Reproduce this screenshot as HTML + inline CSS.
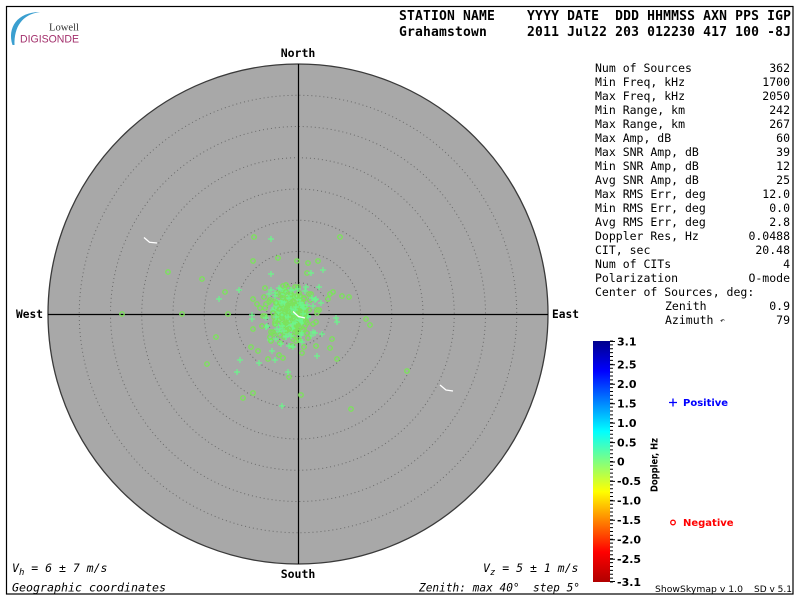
<!DOCTYPE html>
<html><head><meta charset="utf-8"><style>
html,body{margin:0;padding:0;background:#fff;}
svg{display:block;}
</style></head><body>
<svg width="800" height="600" viewBox="0 0 800 600" xmlns="http://www.w3.org/2000/svg" xmlns:xlink="http://www.w3.org/1999/xlink">
<defs>
<linearGradient id="jet" x1="0" y1="0" x2="0" y2="1">
<stop offset="0" stop-color="#00008c"/>
<stop offset="0.125" stop-color="#0000ff"/>
<stop offset="0.375" stop-color="#00ffff"/>
<stop offset="0.5" stop-color="#80ff80"/>
<stop offset="0.625" stop-color="#ffff00"/>
<stop offset="0.875" stop-color="#ff0000"/>
<stop offset="1" stop-color="#b00000"/>
</linearGradient>
<path id="p" d="M-3 0h6M0 -3v6" stroke="#6cf58c" stroke-width="1.2" fill="none"/>
<circle id="o" r="2.2" stroke="#7ce25c" stroke-width="1.4" fill="none"/>
<g id="g1">
<use href="#o" x="3" y="-5"/><use href="#o" x="8" y="2"/><use href="#o" x="-6" y="4"/><use href="#o" x="11" y="-9"/>
<use href="#o" x="-9" y="-11"/><use href="#o" x="13" y="7"/><use href="#o" x="-4" y="13"/><use href="#o" x="5" y="15"/>
<use href="#o" x="-13" y="2"/><use href="#o" x="2" y="-16"/><use href="#o" x="15" y="-3"/><use href="#o" x="-8" y="-17"/>
<use href="#o" x="0" y="6"/><use href="#o" x="-3" y="-2"/><use href="#o" x="6" y="-12"/>
<use href="#p" x="0" y="-9"/><use href="#p" x="6" y="9"/><use href="#p" x="-10" y="-5"/><use href="#p" x="9" y="-15"/>
<use href="#p" x="-7" y="11"/><use href="#p" x="12" y="12"/><use href="#p" x="-14" y="9"/><use href="#p" x="9" y="-3"/>
<use href="#p" x="-3" y="-14"/><use href="#p" x="16" y="4"/><use href="#p" x="2" y="2"/><use href="#p" x="-5" y="-7"/>
</g>
<g id="g2">
<use href="#o" x="20" y="-18"/><use href="#o" x="-22" y="-10"/><use href="#o" x="25" y="10"/><use href="#o" x="-18" y="20"/>
<use href="#o" x="8" y="28"/><use href="#o" x="-5" y="-27"/><use href="#o" x="28" y="-2"/><use href="#o" x="-26" y="4"/>
<use href="#p" x="-20" y="-22"/><use href="#p" x="22" y="20"/><use href="#p" x="15" y="-25"/><use href="#p" x="-25" y="15"/>
<use href="#p" x="0" y="24"/><use href="#p" x="24" y="-12"/>
</g>
</defs>

<rect x="6.5" y="6.5" width="786.5" height="587.5" fill="none" stroke="#000" stroke-width="1.2"/>

<path d="M12.5 45 C7 28 17 12 40 12 C22 14.5 14 27 14.5 45 Z" fill="#3a9fd0"/>
<text x="49" y="30.5" font-family="Liberation Serif, serif" font-size="10.5" fill="#333" textLength="30" lengthAdjust="spacingAndGlyphs">Lowell</text>
<text x="20" y="42.5" font-family="Liberation Sans, sans-serif" font-size="11" fill="#a3306c" textLength="59" lengthAdjust="spacingAndGlyphs">DIGISONDE</text>

<g font-family="DejaVu Sans Mono, monospace" font-weight="bold" font-size="13" fill="#000">
<text x="399" y="20" textLength="392" lengthAdjust="spacing" xml:space="preserve">STATION NAME    YYYY DATE  DDD HHMMSS AXN PPS IGP</text>
<text x="399" y="36" textLength="392" lengthAdjust="spacing" xml:space="preserve">Grahamstown     2011 Jul22 203 012230 417 100 -8J</text>
</g>

<circle cx="298" cy="314" r="250" fill="#a8a8a8" stroke="#3a3a3a" stroke-width="1.3"/>
<g fill="none" stroke="#6a6a6a" stroke-width="1" stroke-dasharray="1 3">
<circle cx="298" cy="314" r="31.25"/>
<circle cx="298" cy="314" r="62.5"/>
<circle cx="298" cy="314" r="93.75"/>
<circle cx="298" cy="314" r="125"/>
<circle cx="298" cy="314" r="156.25"/>
<circle cx="298" cy="314" r="187.5"/>
<circle cx="298" cy="314" r="218.75"/>
</g>
<line x1="298.5" y1="64" x2="298.5" y2="564" stroke="#000" stroke-width="1.2"/>
<line x1="48" y1="314.5" x2="548" y2="314.5" stroke="#000" stroke-width="1.2"/>

<g font-family="DejaVu Sans Mono, monospace" font-weight="bold" font-size="11.5" fill="#000">
<text x="298" y="57" text-anchor="middle">North</text>
<text x="298" y="578" text-anchor="middle">South</text>
<text x="16" y="318" textLength="27" lengthAdjust="spacingAndGlyphs">West</text>
<text x="552" y="318" textLength="27" lengthAdjust="spacingAndGlyphs">East</text>
</g>

<ellipse cx="291" cy="312" rx="14" ry="20" fill="#8ef08e" opacity="0.6"/>
<use href="#g1" transform="translate(291,312)"/>
<use href="#g1" transform="translate(290,304) scale(-1,1)"/>
<use href="#g1" transform="translate(292,320) scale(1,-1)"/>
<use href="#g1" transform="translate(289,314) scale(-1,-1)"/>
<use href="#g1" transform="translate(293,308) rotate(90)"/>
<use href="#g1" transform="translate(288,318) rotate(90) scale(-1,1)"/>
<use href="#g1" transform="translate(291,300) rotate(180)"/>
<use href="#g1" transform="translate(291,326) rotate(270)"/>
<use href="#g2" transform="translate(291,312)"/>
<use href="#g2" transform="translate(291,314) scale(-1,-1)"/>
<use href="#g2" transform="translate(290,318) rotate(90)"/>

<g>
<use href="#o" x="254" y="237"/><use href="#o" x="340" y="237"/><use href="#o" x="253" y="261"/><use href="#o" x="278" y="258"/>
<use href="#o" x="297" y="261"/><use href="#o" x="308" y="263"/><use href="#o" x="318" y="261"/><use href="#o" x="307" y="273"/>
<use href="#o" x="168" y="272"/><use href="#o" x="202" y="279"/><use href="#o" x="225" y="292"/><use href="#o" x="265" y="288"/>
<use href="#o" x="253" y="299"/><use href="#o" x="264" y="297"/><use href="#o" x="257" y="304"/><use href="#o" x="260" y="308"/>
<use href="#o" x="265" y="308"/><use href="#o" x="333" y="292"/><use href="#o" x="330" y="294"/><use href="#o" x="342" y="296"/>
<use href="#o" x="349" y="297"/><use href="#o" x="328" y="299"/><use href="#o" x="122" y="314"/><use href="#o" x="182" y="314"/>
<use href="#o" x="228" y="314"/><use href="#o" x="366" y="319"/><use href="#o" x="370" y="325"/><use href="#o" x="253" y="329"/>
<use href="#o" x="216" y="337"/><use href="#o" x="270" y="337"/><use href="#o" x="271" y="341"/><use href="#o" x="332" y="339"/>
<use href="#o" x="307" y="333"/><use href="#o" x="251" y="347"/><use href="#o" x="258" y="351"/><use href="#o" x="304" y="347"/>
<use href="#o" x="316" y="346"/><use href="#o" x="330" y="348"/><use href="#o" x="302" y="353"/><use href="#o" x="279" y="355"/>
<use href="#o" x="283" y="358"/><use href="#o" x="268" y="359"/><use href="#o" x="207" y="364"/><use href="#o" x="337" y="359"/>
<use href="#o" x="289" y="377"/><use href="#o" x="253" y="393"/><use href="#o" x="243" y="398"/><use href="#o" x="301" y="395"/>
<use href="#o" x="351" y="409"/><use href="#o" x="407" y="371"/>
</g>
<g>
<use href="#p" x="271" y="239"/><use href="#p" x="323" y="270"/><use href="#p" x="311" y="273"/><use href="#p" x="271" y="274"/>
<use href="#p" x="239" y="290"/><use href="#p" x="219" y="299"/><use href="#p" x="319" y="287"/><use href="#p" x="321" y="303"/>
<use href="#p" x="313" y="306"/><use href="#p" x="252" y="315"/><use href="#p" x="252" y="319"/><use href="#p" x="336" y="318"/>
<use href="#p" x="337" y="322"/><use href="#p" x="286" y="337"/><use href="#p" x="322" y="334"/><use href="#p" x="281" y="344"/>
<use href="#p" x="289" y="346"/><use href="#p" x="293" y="347"/><use href="#p" x="272" y="351"/><use href="#p" x="317" y="356"/>
<use href="#p" x="275" y="360"/><use href="#p" x="240" y="360"/><use href="#p" x="259" y="363"/><use href="#p" x="237" y="372"/>
<use href="#p" x="288" y="372"/><use href="#p" x="282" y="406"/>
</g>

<g fill="none" stroke="#fff" stroke-width="1.3">
<polyline points="144,237.5 149.5,242.3 157,243"/>
<polyline points="440,385 446,390 453,391"/>
<polyline points="293,311.5 298.5,316.5 305,318"/>
</g>

<g font-family="DejaVu Sans Mono, monospace" font-size="11.5" fill="#000">
<text x="595" y="72">Num of Sources</text><text x="790" y="72" text-anchor="end">362</text>
<text x="595" y="86">Min Freq, kHz</text><text x="790" y="86" text-anchor="end">1700</text>
<text x="595" y="100">Max Freq, kHz</text><text x="790" y="100" text-anchor="end">2050</text>
<text x="595" y="114">Min Range, km</text><text x="790" y="114" text-anchor="end">242</text>
<text x="595" y="128">Max Range, km</text><text x="790" y="128" text-anchor="end">267</text>
<text x="595" y="142">Max Amp, dB</text><text x="790" y="142" text-anchor="end">60</text>
<text x="595" y="156">Max SNR Amp, dB</text><text x="790" y="156" text-anchor="end">39</text>
<text x="595" y="170">Min SNR Amp, dB</text><text x="790" y="170" text-anchor="end">12</text>
<text x="595" y="184">Avg SNR Amp, dB</text><text x="790" y="184" text-anchor="end">25</text>
<text x="595" y="198">Max RMS Err, deg</text><text x="790" y="198" text-anchor="end">12.0</text>
<text x="595" y="212">Min RMS Err, deg</text><text x="790" y="212" text-anchor="end">0.0</text>
<text x="595" y="226">Avg RMS Err, deg</text><text x="790" y="226" text-anchor="end">2.8</text>
<text x="595" y="240">Doppler Res, Hz</text><text x="790" y="240" text-anchor="end">0.0488</text>
<text x="595" y="254">CIT, sec</text><text x="790" y="254" text-anchor="end">20.48</text>
<text x="595" y="268">Num of CITs</text><text x="790" y="268" text-anchor="end">4</text>
<text x="595" y="282">Polarization</text><text x="790" y="282" text-anchor="end">O-mode</text>
<text x="595" y="296">Center of Sources, deg:</text>
<text x="665" y="310">Zenith</text><text x="790" y="310" text-anchor="end">0.9</text>
<text x="665" y="324">Azimuth</text><text x="720" y="323" font-size="8">↶</text><text x="790" y="324" text-anchor="end">79</text>
</g>

<rect x="593" y="341" width="17" height="241" fill="url(#jet)"/>
<line x1="611.5" y1="340.5" x2="611.5" y2="583" stroke="#000" stroke-width="3" stroke-dasharray="1 2.8871"/>
<path d="M610 341.5h5M610 364.8h5M610 384.3h5M610 403.7h5M610 423.1h5M610 442.6h5M610 462h5M610 481.4h5M610 500.9h5M610 520.3h5M610 539.7h5M610 559.2h5M610 581.5h5" stroke="#000" stroke-width="1"/>
<g font-family="DejaVu Sans, sans-serif" font-weight="bold" font-size="11" fill="#000">
<text x="617" y="345.5">3.1</text>
<text x="617" y="368.5">2.5</text>
<text x="617" y="388">2.0</text>
<text x="617" y="407.4">1.5</text>
<text x="617" y="426.8">1.0</text>
<text x="617" y="446.3">0.5</text>
<text x="617" y="465.7">0</text>
<text x="617" y="485.1">-0.5</text>
<text x="617" y="504.6">-1.0</text>
<text x="617" y="524">-1.5</text>
<text x="617" y="543.4">-2.0</text>
<text x="617" y="562.9">-2.5</text>
<text x="617" y="586">-3.1</text>
</g>
<text transform="translate(657.5,465) rotate(-90)" text-anchor="middle" font-family="DejaVu Sans, sans-serif" font-weight="bold" font-size="10" textLength="54" lengthAdjust="spacingAndGlyphs">Doppler, Hz</text>

<path d="M669 402.5h8M673 398.5v8" stroke="#0000ff" stroke-width="1.3"/>
<text x="683" y="406" font-family="DejaVu Sans, sans-serif" font-weight="bold" font-size="10" fill="#0000ff">Positive</text>
<circle cx="673" cy="522.5" r="2.3" fill="none" stroke="#ff0000" stroke-width="1.3"/>
<text x="683" y="526" font-family="DejaVu Sans, sans-serif" font-weight="bold" font-size="10" fill="#ff0000">Negative</text>

<g font-family="DejaVu Sans Mono, monospace" font-style="italic" font-size="11.5" fill="#000">
<text x="12" y="572" xml:space="preserve">V<tspan font-size="9" dy="3">h</tspan><tspan dy="-3"> = 6 ± 7 m/s</tspan></text>
<text x="12" y="591.5" textLength="154" lengthAdjust="spacingAndGlyphs">Geographic coordinates</text>
<text x="483" y="572" xml:space="preserve">V<tspan font-size="9" dy="3">z</tspan><tspan dy="-3"> = 5 ± 1 m/s</tspan></text>
<text x="419" y="591.5" textLength="161" lengthAdjust="spacingAndGlyphs" xml:space="preserve">Zenith: max 40°  step 5°</text>
</g>
<text x="655" y="592" font-family="DejaVu Sans, sans-serif" font-size="9" textLength="88" lengthAdjust="spacingAndGlyphs">ShowSkymap v 1.0</text>
<text x="754" y="592" font-family="DejaVu Sans, sans-serif" font-size="9" textLength="38" lengthAdjust="spacingAndGlyphs">SD v 5.1</text>
</svg>
</body></html>
